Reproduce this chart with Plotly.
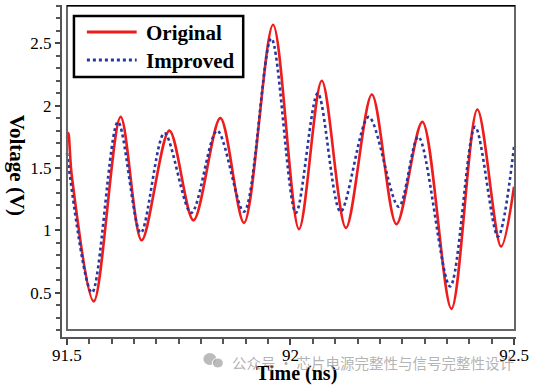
import plotly.graph_objects as go

# Time (ns) and voltage (V) of the waveforms, read at turning points
orig_t = [91.5, 91.503, 91.511, 91.560, 91.620, 91.667, 91.729, 91.783, 91.843, 91.896,
          91.961, 92.019, 92.070, 92.124, 92.182, 92.237, 92.295, 92.360, 92.418, 92.471, 92.5]
orig_v = [1.74, 1.78, 1.43, 0.43, 1.91, 0.92, 1.80, 1.08, 1.90, 1.06,
          2.65, 1.01, 2.20, 1.02, 2.09, 1.05, 1.87, 0.37, 1.97, 0.87, 1.35]

impr_t = [91.5, 91.556, 91.614, 91.665, 91.718, 91.778, 91.836, 91.896, 91.957, 92.012,
          92.061, 92.112, 92.175, 92.242, 92.286, 92.357, 92.413, 92.464, 92.5]
impr_v = [1.62, 0.50, 1.87, 0.98, 1.78, 1.14, 1.80, 1.15, 2.54, 1.14,
          2.10, 1.15, 1.91, 1.19, 1.75, 0.55, 1.83, 0.95, 1.67]

series_names = ["Original", "Improved"]
x_ticks = [91.5, 92, 92.5]
x_tick_text = ["91.5", "92", "92.5"]
y_ticks = [0.5, 1, 1.5, 2, 2.5]
y_tick_text = ["0.5", "1", "1.5", "2", "2.5"]

SERIF = "Liberation Serif"
RED = "#ee1c1c"
BLUE = "#2438a0"

W, H = 534, 385
L, R, T, B = 62, 16, 5, 48
PW, PH = W - L - R, H - T - B


def px(xpix):
    return (xpix - L) / PW


def py(ypix):
    return 1 - (ypix - T) / PH


fig = go.Figure()
fig.add_trace(go.Scatter(x=orig_t, y=orig_v, name=series_names[0], mode="lines",
                         line=dict(color=RED, width=2.6, shape="spline", smoothing=0.9)))
fig.add_trace(go.Scatter(x=impr_t, y=impr_v, name=series_names[1], mode="lines",
                         line=dict(color=BLUE, width=2.6, dash="dot", shape="spline", smoothing=0.9)))

# pixel scale: 449 px per ns, 124.6 px per V
x_lo = 91.5 - 5 / 449
x_hi = 92.5 + 2 / 449
y_hi = 2.808
y_lo = 0.144

fig.update_layout(
    width=W, height=H,
    margin=dict(l=L, r=R, t=T, b=B),
    paper_bgcolor="white", plot_bgcolor="white",
    showlegend=False,
    font=dict(family=SERIF, color="black"),
)

fig.update_xaxes(range=[x_lo, x_hi], showgrid=False, zeroline=False,
                 showline=True, linecolor="#555", linewidth=2,
                 tickmode="array", tickvals=x_ticks, ticktext=x_tick_text,
                 ticks="outside", ticklen=6, tickwidth=1.5, tickcolor="#444",
                 ticklabelstandoff=-4,
                 tickfont=dict(family=SERIF, size=17, color="black"),
                 minor=dict(dtick=0.05, tick0=91.5, ticks="outside", ticklen=5, tickwidth=1.5, tickcolor="#555"))
fig.update_yaxes(range=[y_lo, y_hi], showgrid=False, zeroline=False,
                 showline=True, linecolor="#555", linewidth=2,
                 tickmode="array", tickvals=y_ticks, ticktext=y_tick_text,
                 ticks="outside", ticklen=5, tickwidth=1.5, tickcolor="#444",
                 tickfont=dict(family=SERIF, size=17, color="black"),
                 minor=dict(dtick=0.1, tick0=0.2, ticks="outside", ticklen=4, tickwidth=1.5, tickcolor="#555"))

# inner plot frame
fig.add_shape(type="rect", xref="x", yref="y", x0=91.5, x1=x_hi - 1 / 449, y0=0.2, y1=y_hi - 0.004,
              line=dict(color="#666", width=2), layer="above")
fig.add_shape(type="line", xref="x", yref="y", x0=91.5, x1=x_hi - 1 / 449, y0=y_hi - 0.004, y1=y_hi - 0.004,
              line=dict(color="black", width=2), layer="above")

# legend (drawn box)
fig.add_shape(type="rect", xref="paper", yref="paper", x0=px(74), x1=px(244), y0=py(16), y1=py(77),
              line=dict(color="black", width=2.5), fillcolor="white", layer="above")
for i, (name, col, dash) in enumerate([(series_names[0], RED, "solid"), (series_names[1], BLUE, "dot")]):
    yy = 32 + 28 * i
    fig.add_shape(type="line", xref="paper", yref="paper", x0=px(87), x1=px(137), y0=py(yy), y1=py(yy),
                  line=dict(color=col, width=3, dash=dash), layer="above")
    fig.add_annotation(text=name, xref="paper", yref="paper", x=px(144), y=py(yy + 1),
                       showarrow=False, xanchor="left", yanchor="middle",
                       font=dict(family=SERIF, size=21, color="black", weight="bold"))

# axis titles
fig.add_annotation(text="Time (ns)", xref="paper", yref="paper",
                   x=px(298), y=py(373),
                   showarrow=False, font=dict(family=SERIF, size=20, color="black", weight="bold"),
                   xanchor="center", yanchor="middle")
fig.add_annotation(text="Voltage (V)", xref="paper", yref="paper",
                   x=px(17), y=py(165),
                   showarrow=False, textangle=90, font=dict(family=SERIF, size=21, color="black", weight="bold"),
                   xanchor="center", yanchor="middle")

# watermark
fig.add_shape(type="circle", xref="paper", yref="paper", x0=px(204), x1=px(217), y0=py(353), y1=py(365),
              line=dict(width=0), fillcolor="rgba(170,170,170,0.8)")
fig.add_shape(type="circle", xref="paper", yref="paper", x0=px(213), x1=px(224), y0=py(358), y1=py(368),
              line=dict(color="white", width=1), fillcolor="rgba(170,170,170,0.8)")
fig.add_annotation(text="公众号 · 芯片电源完整性与信号完整性设计", xref="paper", yref="paper",
                   x=px(231), y=py(362),
                   showarrow=False, xanchor="left", yanchor="middle",
                   font=dict(family="Noto Sans CJK SC", size=14.5, color="rgba(160,160,160,0.8)"))

fig.write_html("out.html", config={"displayModeBar": False},
               post_script="document.body.style.margin='0';")
